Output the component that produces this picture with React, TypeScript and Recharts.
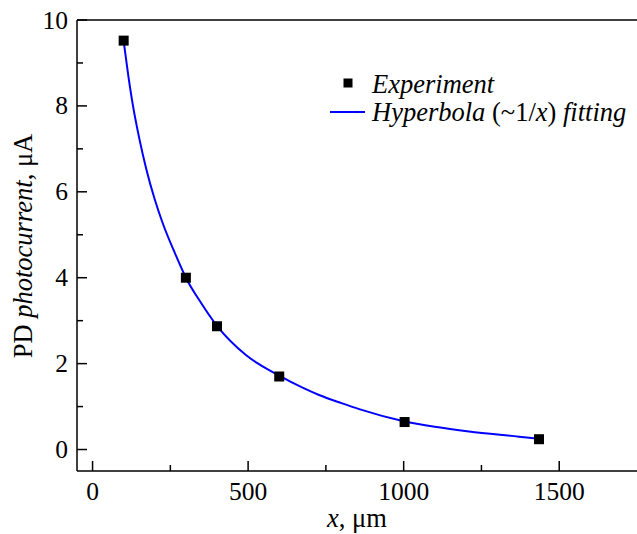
import { ComposedChart, Line, Scatter, XAxis, YAxis, ReferenceLine, Legend } from 'recharts';

// experimental points
const expX = [100, 300, 400, 600, 1003, 1435];
const expY = [9.52, 4.0, 2.87, 1.7, 0.64, 0.24];

// fitted hyperbola
const fitX = [100, 115, 130, 150, 172, 200, 225, 266, 300, 350, 400, 493, 600, 675, 728, 800, 857, 1000, 1100, 1210, 1371, 1435];
const fitY = [9.5, 8.7, 8.0, 7.25, 6.55, 5.82, 5.28, 4.55, 4.0, 3.4, 2.88, 2.2, 1.72, 1.44, 1.27, 1.08, 0.94, 0.66, 0.53, 0.42, 0.3, 0.25];

const xTicks = [0, 250, 500, 750, 1000, 1250, 1500];
const yTicks = [0, 1, 2, 3, 4, 5, 6, 7, 8, 9, 10];

const expData = expX.map((x, i) => ({ x, y: expY[i] }));
const fitData = fitX.map((x, i) => ({ x, y: fitY[i] }));

const FONT = '"Liberation Serif", "Times New Roman", serif';

const XTick = (props: any) => {
  const { x, y, payload } = props;
  const major = payload.value % 500 === 0;
  return (
    <g>
      <line x1={x} x2={x} y1={y} y2={y - (major ? 10 : 6)} stroke="#000" strokeWidth={1.5} />
      {major && (
        <text x={x} y={y + 29} textAnchor="middle" fontSize={25.5} fontFamily={FONT} fill="#000">
          {payload.value}
        </text>
      )}
    </g>
  );
};

const YTick = (props: any) => {
  const { x, y, payload } = props;
  const major = payload.value % 2 === 0;
  return (
    <g>
      <line x1={x} x2={x + (major ? 10 : 6)} y1={y} y2={y} stroke="#000" strokeWidth={1.5} />
      {major && (
        <text x={x - 9} y={y + 8.5} textAnchor="end" fontSize={25.5} fontFamily={FONT} fill="#000">
          {payload.value}
        </text>
      )}
    </g>
  );
};

const XLabel = (props: any) => {
  const { viewBox } = props;
  return (
    <text x={viewBox.x + viewBox.width / 2} y={527} textAnchor="middle" fontSize={26.5} fontFamily={FONT} fill="#000">
      <tspan fontStyle="italic">x</tspan>, μm
    </text>
  );
};

const YLabel = () => (
  <text x={32} y={246} transform="rotate(-90 32 246)" textAnchor="middle" fontSize={26.5} fontFamily={FONT} fill="#000">
    PD <tspan fontStyle="italic">photocurrent</tspan>, μA
  </text>
);

const LegendBox = () => (
  <svg width={312} height={70} style={{ display: 'block' }}>
    <rect x={18.5} y={13.5} width={9} height={9} fill="#000" />
    <text x={47} y={28} fontSize={26.5} fontFamily={FONT} fontStyle="italic" fill="#000">Experiment</text>
    <line x1={5} x2={40} y1={47} y2={47} stroke="#0000ff" strokeWidth={2} />
    <text x={47} y={56} fontSize={26.5} fontFamily={FONT} fill="#000">
      <tspan fontStyle="italic">Hyperbola</tspan> (~1/<tspan fontStyle="italic">x</tspan>) <tspan fontStyle="italic">fitting</tspan>
    </text>
  </svg>
);

const SquareDot = (props: any) => {
  const { cx, cy } = props;
  return <rect x={cx - 5} y={cy - 5} width={10} height={10} fill="#000" />;
};

export default function App() {
  return (
    <div style={{ position: 'absolute', left: 0, top: 0, background: '#fff' }}>
      <ComposedChart width={637} height={534} margin={{ top: 20, right: 0, bottom: 0, left: 0 }}>
        <XAxis
          type="number"
          dataKey="x"
          domain={[-50, 1750]}
          ticks={xTicks}
          allowDataOverflow
          height={63}
          tickSize={0}
          tickMargin={0}
          tickLine={false}
          axisLine={{ stroke: '#000', strokeWidth: 1.5 }}
          tick={<XTick />}
          label={<XLabel />}
        />
        <YAxis
          type="number"
          dataKey="y"
          domain={[-0.5, 10]}
          ticks={yTicks}
          allowDataOverflow
          width={77}
          tickSize={0}
          tickMargin={0}
          tickLine={false}
          axisLine={{ stroke: '#000', strokeWidth: 1.5 }}
          tick={<YTick />}
          label={<YLabel />}
        />
        <ReferenceLine y={10} stroke="#000" strokeWidth={1.5} />
        <Legend
          layout="vertical"
          align="center"
          verticalAlign="middle"
          content={<LegendBox />}
          wrapperStyle={{ position: 'absolute', left: 325, top: 65, width: 312, height: 70 }}
        />
        <Line
          data={fitData}
          dataKey="y"
          type="monotone"
          stroke="#0000ff"
          strokeWidth={2}
          dot={false}
          activeDot={false}
          isAnimationActive={false}
          legendType="none"
        />
        <Scatter data={expData} dataKey="y" shape={<SquareDot />} isAnimationActive={false} legendType="none" />
      </ComposedChart>
    </div>
  );
}
